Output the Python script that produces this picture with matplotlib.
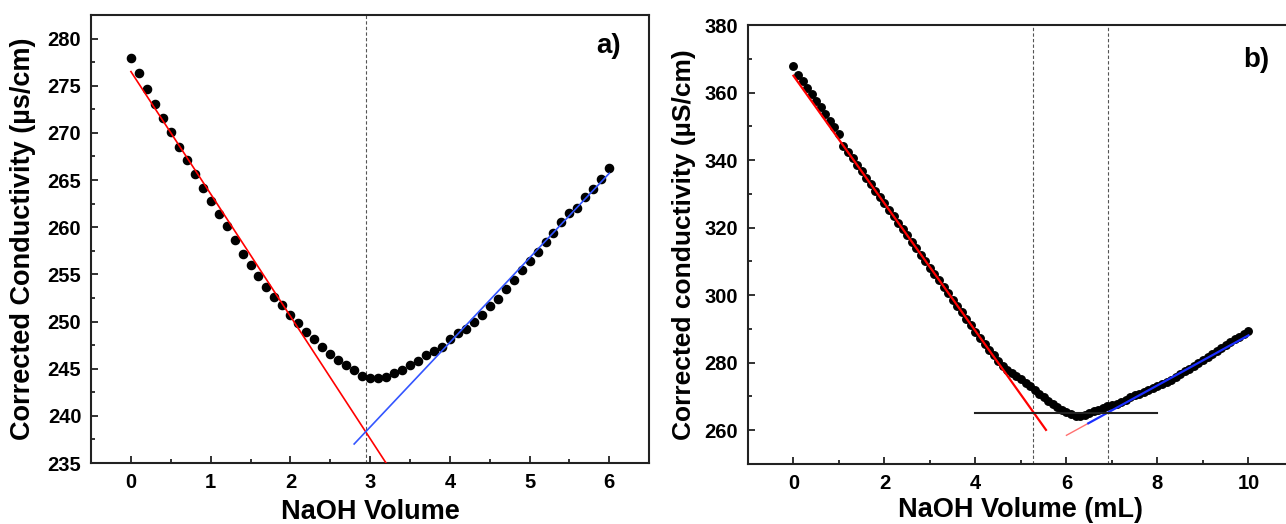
import matplotlib
matplotlib.use('Agg')
import matplotlib.pyplot as plt
import numpy as np
from matplotlib.ticker import MultipleLocator

plt.rcParams['font.family'] = ['Liberation Sans', 'DejaVu Sans']
plt.rcParams['font.weight'] = 'bold'

# ---- panel a) data ----
vol_a = [round(0.1 * i, 1) for i in range(61)]
cond_a = [277.9, 276.4, 274.7, 273.1, 271.6, 270.1, 268.5, 267.1, 265.6, 264.2,
          262.8, 261.4, 260.1, 258.6, 257.2, 256.0, 254.8, 253.7, 252.6, 251.7,
          250.7, 249.8, 248.9, 248.1, 247.3, 246.6, 245.9, 245.4, 244.9, 244.2,
          244.0, 244.0, 244.1, 244.5, 244.9, 245.4, 245.8, 246.4, 246.9, 247.3,
          248.1, 248.8, 249.2, 250.0, 250.7, 251.6, 252.4, 253.4, 254.4, 255.5,
          256.4, 257.4, 258.4, 259.4, 260.5, 261.5, 262.0, 263.2, 264.1, 265.1,
          266.3]
# linear fits: (slope, intercept, x start, x end)
fit_a_red = (-12.97, 276.5, 0.0, 3.3)
fit_a_blue = (8.97, 211.9, 2.8, 6.0)
vline_a = [2.95]

# ---- panel b) data ----
vol_b = [round(0.1 * i, 1) for i in range(101)]
cond_b = [368.0, 365.3, 363.4, 361.5, 359.5, 357.6, 355.6, 353.7, 351.7, 349.7,
          347.7, 344.3, 342.4, 340.5, 338.6, 336.7, 334.8, 332.9, 331.0, 329.1,
          327.2, 325.3, 323.4, 321.5, 319.6, 317.7, 315.8, 313.9, 312.0, 310.1,
          308.2, 306.3, 304.4, 302.5, 300.6, 298.7, 296.8, 294.9, 293.0, 291.1,
          289.2, 287.4, 285.6, 283.9, 282.2, 280.6, 279.0, 277.8, 276.9, 276.1,
          275.1, 274.1, 273.0, 271.9, 270.8, 269.7, 268.7, 267.7, 266.8, 266.0,
          265.3, 264.8, 264.3, 264.2, 264.6, 265.1, 265.6, 266.1, 266.6, 267.1,
          267.5, 267.9, 268.4, 269.0, 269.8, 270.4, 270.8, 271.4, 272.0, 272.6,
          273.1, 273.6, 274.2, 275.0, 275.8, 276.6, 277.4, 278.2, 279.0, 279.8,
          280.7, 281.6, 282.5, 283.5, 284.4, 285.3, 286.1, 286.9, 287.7, 288.6,
          289.5]
fit_b_red = (-18.9, 365.0, 0.0, 5.55)
fit_b_pink = (7.4, 214.1, 6.0, 6.48)
fit_b_blue = (7.4, 214.1, 6.48, 10.0)
hline_b = (265.0, 4.0, 8.0)
vline_b = [5.27, 6.91]


def fit_line(ax, fit, color, lw):
    slope, icpt, x0, x1 = fit
    xs = np.array([x0, x1])
    ax.plot(xs, slope * xs + icpt, color=color, lw=lw, zorder=4)


def style_axes(ax):
    for sp in ax.spines.values():
        sp.set_linewidth(1.5)
        sp.set_color('#222222')
    ax.tick_params(which='both', direction='in', top=False, right=False,
                   labelsize=14.5, width=1.3, color='#222222', pad=7)
    ax.tick_params(which='major', length=5)
    ax.tick_params(which='minor', length=3)
    for lab in ax.get_xticklabels() + ax.get_yticklabels():
        lab.set_fontweight('bold')


fig = plt.figure(figsize=(12.86, 5.24), dpi=100)

# panel a)
ax1 = fig.add_axes([0.0708, 0.1164, 0.434, 0.855])
ax1.plot(vol_a, cond_a, 'o', color='black', ms=5.9, zorder=3)
fit_line(ax1, fit_a_red, 'red', 1.2)
fit_line(ax1, fit_a_blue, '#3355ff', 1.2)
for v in vline_a:
    ax1.axvline(v, color='#555555', lw=0.8, ls=(0, (3, 2)), zorder=2)
ax1.set_xlim(-0.5, 6.5)
ax1.set_ylim(235, 282.5)
ax1.xaxis.set_major_locator(MultipleLocator(1))
ax1.xaxis.set_minor_locator(MultipleLocator(0.5))
ax1.yaxis.set_major_locator(MultipleLocator(5))
ax1.yaxis.set_minor_locator(MultipleLocator(2.5))
ax1.set_xlabel('NaOH Volume', fontsize=19.5, fontweight='bold', labelpad=5)
ax1.set_ylabel('Corrected Conductivity (\u00b5s/cm)', fontsize=19.5,
               fontweight='bold', labelpad=8)
ax1.text(0.95, 0.93, 'a)', transform=ax1.transAxes, fontsize=20,
         fontweight='bold', ha='right', va='center')
style_axes(ax1)

# panel b)
ax2 = fig.add_axes([0.5816, 0.1145, 0.4246, 0.8376])
ax2.plot(vol_b, cond_b, 'o', color='black', ms=5.4, zorder=3)
fit_line(ax2, fit_b_red, 'red', 1.6)
fit_line(ax2, fit_b_pink, '#ff7070', 1.0)
fit_line(ax2, fit_b_blue, '#1a2eff', 1.6)
ax2.plot([hline_b[1], hline_b[2]], [hline_b[0], hline_b[0]], color='#222222',
         lw=1.5, zorder=4)
for v in vline_b:
    ax2.axvline(v, color='#555555', lw=0.8, ls=(0, (3, 2)), zorder=2)
ax2.set_xlim(-1, 11)
ax2.set_ylim(250, 380)
ax2.xaxis.set_major_locator(MultipleLocator(2))
ax2.xaxis.set_minor_locator(MultipleLocator(1))
ax2.yaxis.set_major_locator(MultipleLocator(20))
ax2.yaxis.set_minor_locator(MultipleLocator(10))
ax2.set_xlabel('NaOH Volume (mL)', fontsize=19.5, fontweight='bold',
               labelpad=3)
ax2.set_ylabel('Corrected conductivity (\u00b5S/cm)', fontsize=19,
               fontweight='bold', labelpad=6)
ax2.text(0.955, 0.92, 'b)', transform=ax2.transAxes, fontsize=20,
         fontweight='bold', ha='right', va='center')
style_axes(ax2)

fig.savefig('out.png', dpi=100)
